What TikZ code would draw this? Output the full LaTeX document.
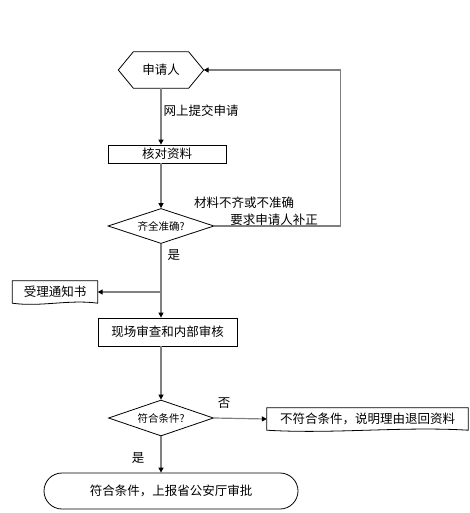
\documentclass[tikz,border=0pt]{standalone}
\usepackage{fontspec}
\usepackage{tikz}
\usetikzlibrary{arrows.meta,shapes.geometric,shapes.misc}
\newfontfamily\cjk{Noto Sans CJK SC}

\begin{document}
\begin{tikzpicture}[x=1pt, y=-1pt,
    txt/.style={font=\cjk\fontsize{12.5pt}{14pt}\selectfont, inner sep=0pt},
    small/.style={font=\cjk\fontsize{10.5pt}{12pt}\selectfont, inner sep=0pt},
    box/.style={txt, draw, line width=0.8pt},
    doc/.style={txt, minimum height=22pt},
    ask/.style={small, draw, line width=0.8pt, diamond, aspect=3},
    arr/.style={draw=gray, line width=1.2pt, -{Triangle[black,length=5pt,width=5pt]}}]
                \useasboundingbox (0,0) rectangle (470,513);
                \fill[white] (0,0) rectangle (470,513);

                \node[txt, minimum width=85pt, minimum height=36pt] (app) at (161,70) {申请人};
                \draw[line width=0.8pt] (app.west) -- ([xshift=15pt]app.north west) -- ([xshift=-15pt]app.north east)
                    -- (app.east) -- ([xshift=-15pt]app.south east) -- ([xshift=15pt]app.south west) -- cycle;

                \node[box, minimum width=118pt, minimum height=18pt] (chk) at (167,154) {核对资料};
                \node[ask, minimum width=106pt, minimum height=35pt] (full) at (161,226) {齐全准确?};
                \node[doc, minimum width=85pt] (notice) at (55,292) {受理通知书};
                \node[box, minimum width=139pt, minimum height=28pt] (review) at (167.5,332) {现场审查和内部审核};
                \node[ask, minimum width=105pt, minimum height=36pt] (meet) at (161,418) {符合条件?};
                \node[doc, minimum width=201pt] (reject) at (367.5,419) {不符合条件，说明理由退回资料};
                \node[box, rounded rectangle, minimum width=254pt, minimum height=36pt] (pass) at (171,491) {符合条件，上报省公安厅审批};

                \draw[line width=0.8pt] (notice.north west) -- (notice.north east) -- (notice.south east)
                    .. controls +(-28pt,4pt) and +(28pt,-4pt) .. (notice.south west) -- cycle;
                \draw[line width=0.8pt] (reject.north west) -- (reject.north east) -- (reject.south east)
                    .. controls +(-66pt,4pt) and +(66pt,-4pt) .. (reject.south west) -- cycle;

                \draw[arr] (app.south) -- (app.south |- chk.north) node[txt, pos=0.4, right=2pt] {网上提交申请};
                \draw[arr] (full.north |- chk.south) -- (full.north);
                \draw[arr] (full.east) -- ++(126pt,0pt) |- (app.east);
                \node[txt] (lack) at (244,203) {材料不齐或不准确};
                \node[txt] (redo) at (274,220) {要求申请人补正};

                \draw[arr] (full.south) -- (full.south |- review.north) node[txt, pos=0.15, right=6pt] {是};
                \draw[arr] (full.south |- notice.east) -- (notice.east);
                \draw[arr] (meet.north |- review.south) -- (meet.north);
                \draw[arr] (meet.east) -- (reject.west);
                \node[txt] (no) at (224,403) {否};
                \draw[arr] (meet.south) -- (meet.south |- pass.north);
                \node[txt] (yes) at (138,458) {是};

            \end{tikzpicture}
\end{document}
